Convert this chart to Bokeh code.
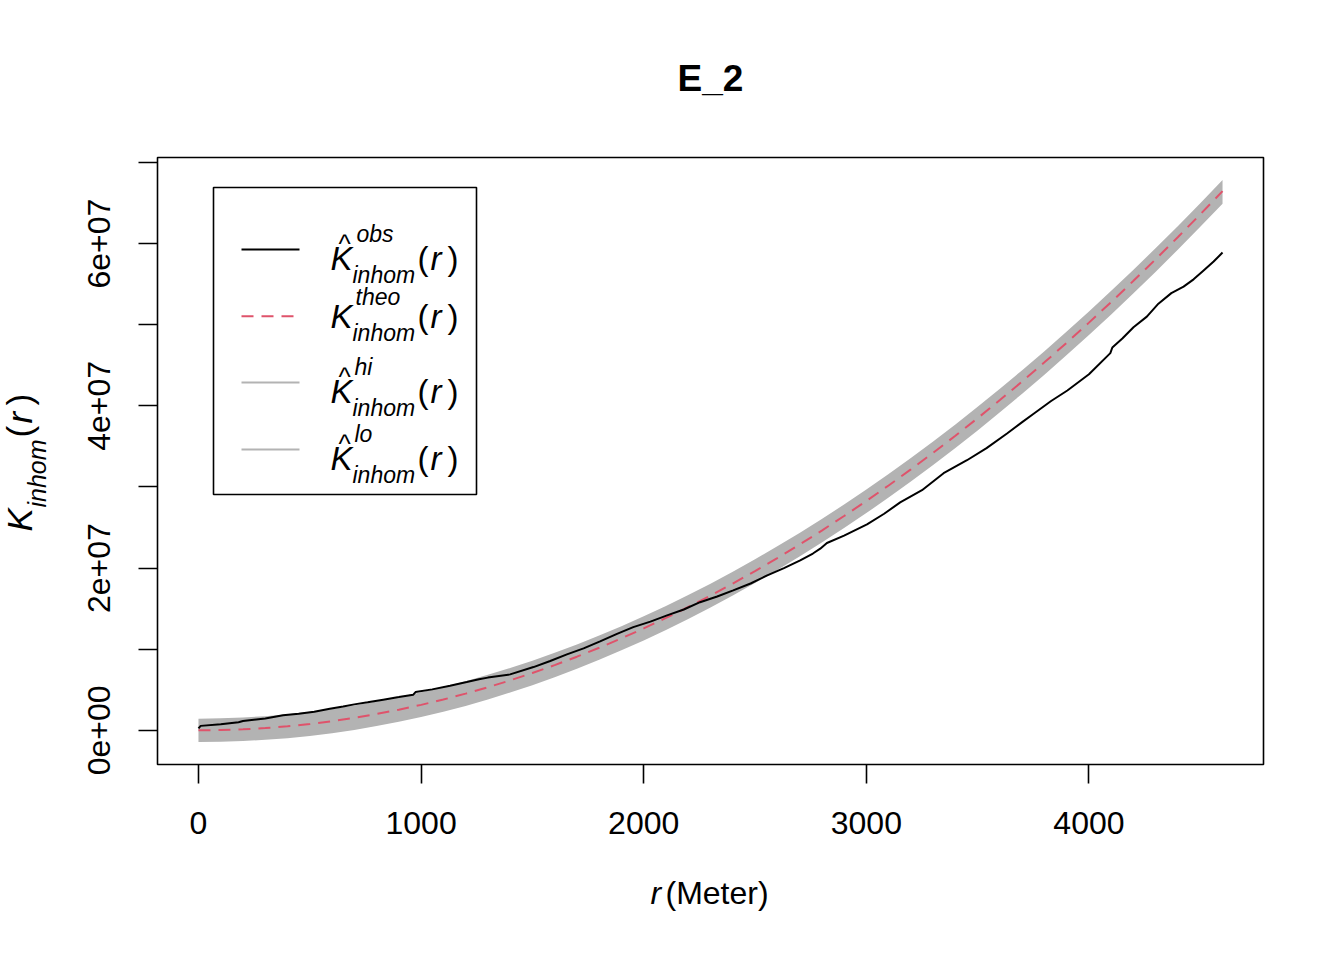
import numpy as np
from bokeh.plotting import figure
from bokeh.models import Range1d, FixedTicker, Label, BoxAnnotation
from bokeh.embed import file_html
from bokeh.resources import INLINE

# ---------------- data (K values in millions) ----------------
r_env = [0, 100, 200, 300, 400, 500, 600, 700, 800, 900, 1000, 1100, 1200, 1300,
         1400, 1500, 1600, 1700, 1800, 1900, 2000, 2100, 2200, 2300, 2400, 2500,
         2600, 2700, 2800, 2900, 3000, 3100, 3200, 3300, 3400, 3500, 3600, 3700,
         3800, 3900, 4000, 4100, 4200, 4300, 4400, 4500, 4600]
k_theo_m = [0.0, 0.031, 0.126, 0.283, 0.503, 0.785, 1.131, 1.539, 2.011, 2.545,
            3.142, 3.801, 4.524, 5.309, 6.158, 7.069, 8.042, 9.079, 10.179, 11.341,
            12.566, 13.854, 15.205, 16.619, 18.096, 19.635, 21.237, 22.902, 24.630,
            26.421, 28.274, 30.191, 32.170, 34.212, 36.317, 38.485, 40.715, 43.008,
            45.365, 47.784, 50.265, 52.810, 55.418, 58.088, 60.821, 63.617, 66.476]
k_hi_m = [1.44, 1.48, 1.59, 1.75, 1.98, 2.29, 2.64, 3.06, 3.54, 4.10, 4.70, 5.35,
          6.06, 6.84, 7.68, 8.59, 9.55, 10.58, 11.68, 12.83, 14.05, 15.32, 16.67,
          18.08, 19.55, 21.08, 22.68, 24.33, 26.06, 27.84, 29.69, 31.60, 33.58,
          35.61, 37.72, 39.88, 42.10, 44.40, 46.75, 49.16, 51.64, 54.19, 56.79,
          59.46, 62.19, 64.99, 67.85]
k_lo_m = [-1.44, -1.41, -1.32, -1.17, -0.96, -0.69, -0.35, 0.05, 0.52, 1.05, 1.63,
          2.29, 3.01, 3.81, 4.66, 5.57, 6.55, 7.59, 8.70, 9.86, 11.09, 12.38, 13.74,
          15.15, 16.63, 18.17, 19.76, 21.42, 23.15, 24.93, 26.78, 28.70, 30.67,
          32.71, 34.82, 36.98, 39.21, 41.50, 43.85, 46.26, 48.75, 51.28, 53.89,
          56.55, 59.28, 62.07, 64.93]
r_obs = [0, 10, 100, 180, 200, 300, 380, 450, 520, 590, 650, 700, 760, 830, 900,
         965, 975, 1050, 1130, 1205, 1260, 1300, 1400, 1505, 1580, 1655, 1730,
         1804, 1880, 1953, 2030, 2105, 2180, 2253, 2330, 2402, 2480, 2555, 2630,
         2703, 2760, 2793, 2823, 2900, 3003, 3080, 3152, 3250, 3347, 3452, 3540,
         3632, 3700, 3750, 3830, 3903, 4000, 4096, 4105, 4150, 4200, 4260, 4312,
         4370, 4425, 4470, 4515, 4560, 4600]
k_obs_m = [0.25, 0.55, 0.75, 1.0, 1.15, 1.45, 1.85, 2.05, 2.3, 2.67, 2.95, 3.2,
           3.45, 3.78, 4.1, 4.4, 4.72, 5.05, 5.5, 5.95, 6.3, 6.5, 6.9, 7.8, 8.55,
           9.36, 10.1, 10.97, 11.9, 12.73, 13.4, 14.17, 14.9, 15.8, 16.5, 17.25,
           18.1, 19.1, 20.0, 20.95, 21.8, 22.4, 23.1, 24.0, 25.4, 26.7, 28.1, 29.6,
           31.7, 33.3, 34.8, 36.6, 38.0, 39.0, 40.6, 41.9, 43.9, 46.5, 47.2, 48.3,
           49.7, 51.0, 52.6, 53.9, 54.7, 55.6, 56.7, 57.8, 58.9]

x_ticks = [0, 1000, 2000, 3000, 4000]
x_tick_labels = ["0", "1000", "2000", "3000", "4000"]
y_ticks = [0, 1e7, 2e7, 3e7, 4e7, 5e7, 6e7, 7e7]
y_tick_labels = ["0e+00", "", "2e+07", "", "4e+07", "", "6e+07", ""]

title_text = "E_2"
x_label_var = "r"
x_label_unit = "(Meter)"
legend_sups = ["obs", "theo", "hi", "lo"]
legend_hats = [True, False, True, True]
legend_colors = ["black", "#DF536B", "#B3B3B3", "#B3B3B3"]
legend_dashes = ["solid", "12 8", "solid", "solid"]

M = 1e6
k_theo = np.array(k_theo_m) * M
k_hi = np.array(k_hi_m) * M
k_lo = np.array(k_lo_m) * M
k_obs = np.array(k_obs_m) * M

# plot-box limits with R's 4% extension
xmin, xmax = min(r_env), max(r_env)
ymin, ymax = float(k_lo.min()), float(k_hi.max())
dx, dy = 0.04 * (xmax - xmin), 0.04 * (ymax - ymin)
x0, x1 = xmin - dx, xmax + dx
y0, y1 = ymin - dy, ymax + dy

# page geometry (pixel coordinates of the plot box on the canvas)
FL, FR, FT, FB = 157, 1263, 157, 764
W, H = 1340, 956


def X(px):
    return x0 + (px - FL) / (FR - FL) * (x1 - x0)


def Y(py):
    return y1 - (py - FT) / (FB - FT) * (y1 - y0)


FONT = "Liberation Sans"

# the frame covers the whole canvas; axes are pinned to the plot box edges
p = figure(width=W, height=H, output_backend="svg", toolbar_location=None,
           x_range=Range1d(X(0), X(W)), y_range=Range1d(Y(H), Y(0)),
           min_border=0)
p.grid.visible = False
p.outline_line_color = None
p.background_fill_color = "white"
p.border_fill_color = "white"

for ax in (p.xaxis[0], p.yaxis[0]):
    ax.axis_line_color = None
    ax.major_tick_out = 19
    ax.major_tick_in = 0
    ax.major_tick_line_width = 1.6
    ax.major_tick_line_color = "black"
    ax.minor_tick_line_color = None
    ax.major_label_text_font = FONT
    ax.major_label_text_font_size = "32px"
    ax.major_label_text_color = "black"

p.xaxis[0].fixed_location = y0
p.xaxis[0].ticker = FixedTicker(ticks=x_ticks)
p.xaxis[0].major_label_overrides = {t: s for t, s in zip(x_ticks, x_tick_labels)}
p.xaxis[0].major_label_standoff = 28
p.yaxis[0].fixed_location = x0
p.yaxis[0].ticker = FixedTicker(ticks=y_ticks)
p.yaxis[0].major_label_overrides = {t: s for t, s in zip(y_ticks, y_tick_labels)}
p.yaxis[0].major_label_orientation = "vertical"
p.yaxis[0].major_label_standoff = 28

# envelope band, theoretical and observed curves
p.varea(x=r_env, y1=k_lo, y2=k_hi, fill_color="#B3B3B3")
p.line(r_env, k_theo, line_color="#DF536B", line_width=2, line_dash="12 8")
p.line(r_obs, k_obs, line_color="black", line_width=2)

# plot box
p.add_layout(BoxAnnotation(left=x0, right=x1, bottom=y0, top=y1,
                           fill_alpha=0.0, line_color="black", line_alpha=1.0,
                           line_width=1.6))

# ---------------- legend ----------------
p.add_layout(BoxAnnotation(left=X(213), right=X(476), top=Y(187), bottom=Y(494),
                           fill_alpha=0.0, line_color="black", line_alpha=1.0,
                           line_width=1.6))
line_ys = [249, 315.7, 382, 449]
for ly, col, dash in zip(line_ys, legend_colors, legend_dashes):
    p.segment(x0=[X(241)], y0=[Y(ly)], x1=[X(299)], y1=[Y(ly)],
              line_color=col, line_width=2, line_dash=dash)


def lab(text, px, py, size, style="normal", align="left", angle=0.0):
    # px, py: alphabetic baseline position in canvas pixels
    off = 0.37 * size
    if angle == 0.0:
        py = py - off
    else:
        px = px - off
    p.add_layout(Label(x=X(px), y=Y(py), text=text, text_font=FONT,
                       text_font_size=f"{size}px", text_font_style=style,
                       text_color="black", text_align=align,
                       text_baseline="alphabetic", angle=angle))


for ly, sup, hat in zip(line_ys, legend_sups, legend_hats):
    if hat:
        kb = ly + 21
        supb = ly - 7
        supx = 356 if sup == "obs" else 354
    else:
        kb = ly + 12.6
        supb = ly - 10.7
        supx = 355
    lab("K", 330, kb, 33, "italic")
    if hat:
        lab("^", 344, ly + 4, 26, "normal", align="center")
    lab(sup, supx, supb, 23, "italic")
    lab("inhom", 352, kb + 13, 23, "italic")
    lab("(", 417, kb, 33)
    lab("r", 430, kb, 33, "italic")
    lab(")", 447, kb, 33)

# ---------------- titles ----------------
lab(title_text, 710, 92, 37, "bold", align="center")
lab(x_label_var, 650, 904, 32, "italic")
lab(x_label_unit, 665, 904, 32)

# rotated y-axis label  K_inhom(r)
A = np.pi / 2
ybx = 32
lab("K", ybx, 531, 35, "italic", angle=A)
lab("inhom", ybx + 14, 507, 25, "italic", angle=A)
lab("(", ybx, 437, 35, angle=A)
lab("r", ybx, 423, 35, "italic", angle=A)
lab(")", ybx, 405, 35, angle=A)

open("out.html", "w").write(file_html(p, INLINE))
